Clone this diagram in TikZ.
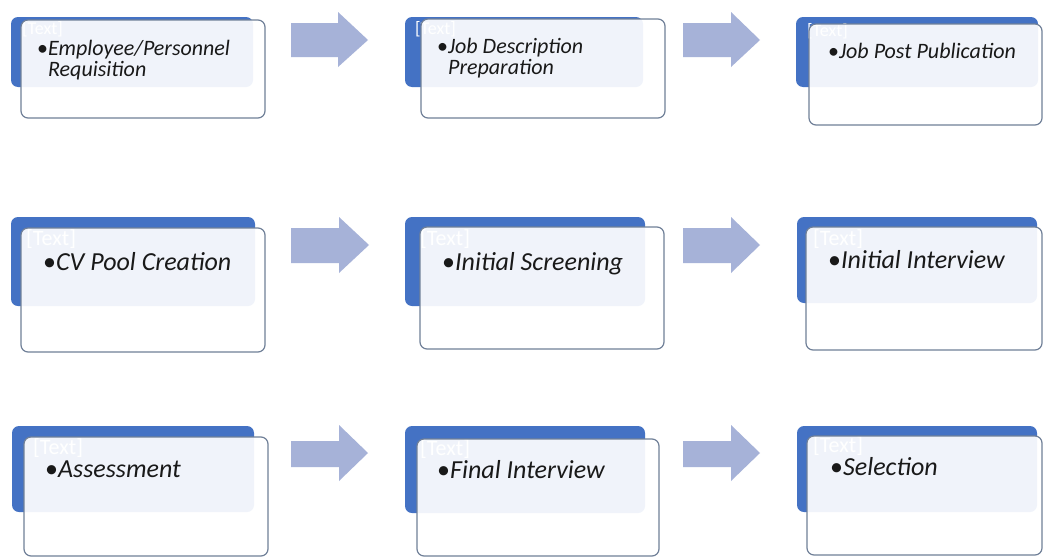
\documentclass[tikz,border=0pt]{standalone}
\usepackage{fontspec}
\setmainfont{Carlito}
\usetikzlibrary{fit}
\definecolor{accent}{RGB}{68,114,196}
\definecolor{arrowc}{RGB}{166,178,216}
\definecolor{edgec}{RGB}{112,128,152}
\definecolor{ink}{RGB}{25,25,25}
\tikzset{
  bluebox/.style={rectangle, rounded corners=7pt, fill=accent, draw=none, inner sep=0pt, outer sep=0pt},
  whitebox/.style={rectangle, rounded corners=7pt, fill=white, fill opacity=0.92, draw=edgec, line width=1.2pt, inner sep=0pt, outer sep=0pt},
  phA/.style={anchor=base west, inner sep=0pt, text=white, font=\fontsize{18}{18}\selectfont},
  phB/.style={anchor=base west, inner sep=0pt, text=white, font=\fontsize{22}{22}\selectfont},
  txtA/.style={anchor=base west, inner sep=0pt, text=ink, align=left, font=\fontsize{22}{21}\selectfont\itshape},
  txtB/.style={anchor=base west, inner sep=0pt, text=ink, align=left, font=\fontsize{26}{26}\selectfont\itshape},
  blockarrow/.style={fill=arrowc, draw=none}
}
\newcommand\bul{{\upshape\textbullet}}
\begin{document}
\begin{tikzpicture}[x=1pt,y=-1pt]
\useasboundingbox (0,0) rectangle (1044,557);
\fill[white] (0,0) rectangle (1044,557);

% ---------- row 1 ----------
\node[bluebox, fit={(11,17)(253,87)}] (b11) {};
\node[phA] (p11) at (22,34) {[Text]};
\node[whitebox, fit={(21,20)(265,118)}] (w11) {};
\node[txtA] (t11) at (37,76) {\bul Employee/Personnel\\\hphantom{\bul}Requisition};

\node[bluebox, fit={(405,17)(643,87)}] (b12) {};
\node[phA] (p12) at (415,34) {[Text]};
\node[whitebox, fit={(421,19)(665,118)}] (w12) {};
\node[txtA] (t12) at (437,74) {\bul Job Description\\\hphantom{\bul}Preparation};

\node[bluebox, fit={(796,17)(1038,87)}] (b13) {};
\node[phA] (p13) at (807,36) {[Text]};
\node[whitebox, fit={(809,24)(1042,125)}] (w13) {};
\node[txtA] (t13) at (828,58) {\bul Job Post Publication};

\fill[blockarrow] (291,23) -- (338,23) -- (338,12) -- (368,40) -- (338,67) -- (338,57) -- (291,57) -- cycle;
\fill[blockarrow] (683,23) -- (731,23) -- (731,12) -- (760,40) -- (731,67) -- (731,57) -- (683,57) -- cycle;

% ---------- row 2 ----------
\node[bluebox, fit={(11,217)(255,306)}] (b21) {};
\node[phB] (p21) at (26,245) {[Text]};
\node[whitebox, fit={(21,228)(265,352)}] (w21) {};
\node[txtB] (t21) at (43,270) {\bul CV Pool Creation};

\node[bluebox, fit={(405,217)(645,306)}] (b22) {};
\node[phB] (p22) at (420,245) {[Text]};
\node[whitebox, fit={(420,227)(664,349)}] (w22) {};
\node[txtB] (t22) at (442,270) {\bul Initial Screening};

\node[bluebox, fit={(797,217)(1037,303)}] (b23) {};
\node[phB] (p23) at (813,245) {[Text]};
\node[whitebox, fit={(806,227)(1042,350)}] (w23) {};
\node[txtB] (t23) at (828,268) {\bul Initial Interview};

\fill[blockarrow] (291,228) -- (339,228) -- (339,217) -- (369,245) -- (339,273) -- (339,263) -- (291,263) -- cycle;
\fill[blockarrow] (683,228) -- (731,228) -- (731,217) -- (760,245) -- (731,273) -- (731,263) -- (683,263) -- cycle;

% ---------- row 3 ----------
\node[bluebox, fit={(12,426)(254,512)}] (b31) {};
\node[phB] (p31) at (33,454) {[Text]};
\node[whitebox, fit={(24,437)(268,556)}] (w31) {};
\node[txtB] (t31) at (45,477) {\bul Assessment};

\node[bluebox, fit={(405,426)(645,513)}] (b32) {};
\node[phB] (p32) at (420,455) {[Text]};
\node[whitebox, fit={(417,439)(659,556)}] (w32) {};
\node[txtB] (t32) at (437,478) {\bul Final Interview};

\node[bluebox, fit={(797,426)(1037,512)}] (b33) {};
\node[phB] (p33) at (813,452) {[Text]};
\node[whitebox, fit={(807,436)(1042,555)}] (w33) {};
\node[txtB] (t33) at (830,475) {\bul Selection};

\fill[blockarrow] (291,441) -- (339,441) -- (339,425) -- (368,453) -- (339,481) -- (339,467) -- (291,467) -- cycle;
\fill[blockarrow] (683,441) -- (731,441) -- (731,425) -- (760,453) -- (731,481) -- (731,467) -- (683,467) -- cycle;
\end{tikzpicture}
\end{document}
